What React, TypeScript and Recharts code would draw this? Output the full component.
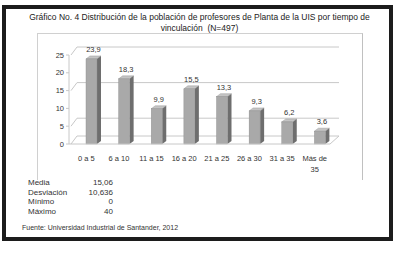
import React from 'react'
import { BarChart, Bar, XAxis, YAxis, CartesianGrid, LabelList } from 'recharts'

const categories = ['0 a 5', '6 a 10', '11 a 15', '16 a 20', '21 a 25', '26 a 30', '31 a 35', 'Más de 35']
const percentages = [23.9, 18.3, 9.9, 15.5, 13.3, 9.3, 6.2, 3.6]
const yTicks = [0, 5, 10, 15, 20, 25]
const statLabels = ['Media', 'Desviación', 'Mínimo', 'Máximo']
const statValues = ['15,06', '10,636', '0', '40']

const data = categories.map((c, i) => ({ rango: c, pct: percentages[i] }))

const FONT = '"Liberation Sans", Arial, sans-serif'
const DX = 6 // 3d shift of bars
const DEPTH_X = 4
const DEPTH_Y = 3

function Bar3D(props: any) {
  const { x, y, width, height } = props
  if (height == null || height <= 0) return null
  const x0 = x + DX
  const x1 = x0 + width
  const yb = y + height
  return (
    <g>
      <polygon
        points={`${x0},${y} ${x1},${y} ${x1 + DEPTH_X},${y - DEPTH_Y} ${x0 + DEPTH_X},${y - DEPTH_Y}`}
        fill="#c4c4c4"
        stroke="#8a8a8a"
        strokeWidth={0.4}
      />
      <polygon
        points={`${x1},${y} ${x1 + DEPTH_X},${y - DEPTH_Y} ${x1 + DEPTH_X},${yb - DEPTH_Y} ${x1},${yb}`}
        fill="#6e6e6e"
      />
      <rect x={x0} y={y} width={width} height={height} fill="#a9a9a9" stroke="#8c8c8c" strokeWidth={0.4} />
    </g>
  )
}

function GridLine(props: any) {
  const { x1, y1, x2 } = props
  const bottom = props.y != null && props.height != null ? props.y + props.height : null
  const isFloor = bottom != null && Math.abs(y1 - bottom) < 1
  return (
    <g>
      <line x1={x1 + 2} y1={y1} x2={x1 + 8} y2={y1 - 8} stroke="#c8c8c8" strokeWidth={1} />
      <line x1={x1 + 8} y1={y1 - 8} x2={x2 + 9} y2={y1 - 8} stroke="#c8c8c8" strokeWidth={1} />
      {isFloor && <line x1={x2} y1={y1} x2={x2 + 9} y2={y1 - 8} stroke="#c8c8c8" strokeWidth={1} />}
    </g>
  )
}

function CatTick(props: any) {
  const { x, y, payload } = props
  const words = String(payload.value)
  const lines = words.length > 8 ? [words.slice(0, 6), words.slice(7)] : [words]
  return (
    <g transform={`translate(${x + 1},${y})`}>
      {lines.map((l, i) => (
        <text key={i} x={0} y={i * 11} dy={9} textAnchor="middle" fontSize={7.5} fill="#333" fontFamily={FONT}>
          {l}
        </text>
      ))}
    </g>
  )
}

function ValueLabel(props: any) {
  const { x, y, width, value } = props
  return (
    <text
      x={x + width / 2 + DX + 2}
      y={y - 7}
      textAnchor="middle"
      fontSize={7.5}
      fill="#333"
      fontFamily={FONT}
    >
      {Number(value).toFixed(1).replace('.', ',')}
    </text>
  )
}

export default function App() {
  return (
    <div style={{ position: 'relative', width: 399, height: 254, background: '#fff', fontFamily: FONT }}>
      <style>{'body{margin:0}'}</style>
      <div
        style={{
          position: 'absolute',
          left: 2,
          top: 5,
          width: 391,
          height: 236,
          border: '4px solid #1c1c1c',
          boxSizing: 'border-box',
        }}
      />
      <div
        style={{
          position: 'absolute',
          left: 37,
          top: 33,
          width: 326,
          height: 147,
          borderLeft: '1px solid #d0d0d0',
          borderTop: '1px solid #d0d0d0',
          borderRight: '1px solid #c0c0c0',
          boxSizing: 'border-box',
        }}
      />
      <div
        style={{
          position: 'absolute',
          left: 10,
          top: 12,
          width: 379,
          textAlign: 'center',
          fontSize: 8.5,
          lineHeight: '11px',
          color: '#222',
        }}
      >
        Gráfico No. 4 Distribución de la población de profesores de Planta de la UIS por tiempo de
        <br />
        vinculación&nbsp; (N=497)
      </div>
      <div style={{ position: 'absolute', left: 0, top: 0 }}>
        <BarChart width={399} height={254} data={data} margin={{ top: 55, right: 69, bottom: 80, left: 39 }}>
          <CartesianGrid vertical={false} horizontal={(p: any) => <GridLine {...p} />} />
          <XAxis
            dataKey="rango"
            tick={<CatTick />}
            tickLine={false}
            axisLine={{ stroke: '#c8c8c8' }}
            interval={0}
            height={30}
          />
          <YAxis
            domain={[0, 25]}
            ticks={yTicks}
            width={30}
            tick={{ fontSize: 7.5, fill: '#333', fontFamily: FONT }}
            tickSize={3}
            tickLine={{ stroke: '#c8c8c8' }}
            axisLine={{ stroke: '#c8c8c8' }}
          />
          <Bar dataKey="pct" barSize={11} shape={<Bar3D />} isAnimationActive={false}>
            <LabelList dataKey="pct" content={<ValueLabel />} />
          </Bar>
        </BarChart>
      </div>
      <div style={{ position: 'absolute', left: 28, top: 178, fontSize: 8, lineHeight: '9.5px', color: '#333' }}>
        {statLabels.map((s, i) => (
          <div key={s} style={{ display: 'flex', width: 85 }}>
            <span style={{ flex: 1 }}>{s}</span>
            <span>{statValues[i]}</span>
          </div>
        ))}
      </div>
      <div style={{ position: 'absolute', left: 22, top: 224, fontSize: 7, color: '#333' }}>
        Fuente: Universidad Industrial de Santander, 2012
      </div>
    </div>
  )
}
